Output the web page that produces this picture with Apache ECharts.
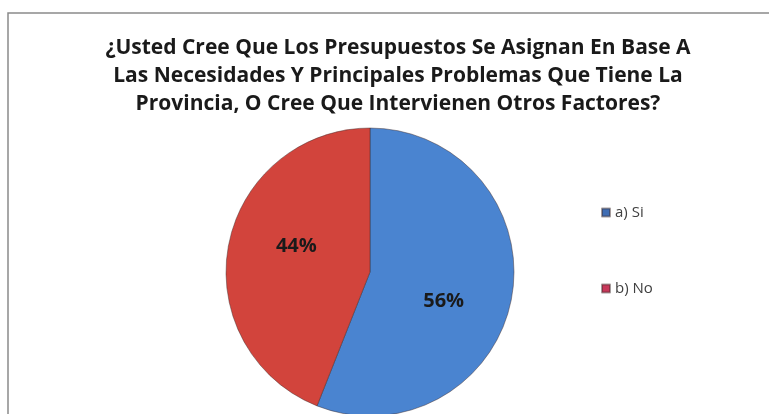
<!DOCTYPE html>
<html>
<head>
<meta charset="utf-8">
<script src="https://cdn.jsdelivr.net/npm/echarts@6/dist/echarts.min.js"></script>
<style>
html,body{margin:0;padding:0;background:#fff;}
#c{width:769px;height:414px;}
</style>
</head>
<body>
<div id="c"></div>
<script>
var titleLines = [
  '¿Usted Cree Que Los Presupuestos Se Asignan En Base A',
  'Las Necesidades Y Principales Problemas Que Tiene La',
  'Provincia, O Cree Que Intervienen Otros Factores?'
];
var categories = ['a) Si', 'b) No'];
var values = [56, 44];
var sliceColors = ['#4a84d0', '#d2443c'];
var legendColors = ['#3f6db3', '#c8385a'];

var chart = echarts.init(document.getElementById('c'));
chart.setOption({
  animation: false,
  backgroundColor: '#ffffff',
  title: {
    text: titleLines.join('\n'),
    left: 393,
    textAlign: 'center',
    top: 29,
    textStyle: {
      fontFamily: 'Open Sans',
      fontWeight: 'bold',
      fontSize: 21,
      lineHeight: 28,
      color: '#1a1a1a'
    }
  },
  graphic: [{
    type: 'rect',
    shape: { x: 8, y: 13, width: 800, height: 450 },
    style: { fill: 'none', stroke: '#8a8a8a', lineWidth: 1.5 },
    silent: true
  }],
  legend: {
    orient: 'vertical',
    left: 596,
    top: 200,
    itemWidth: 8,
    itemHeight: 8,
    itemGap: 61,
    icon: 'rect',
    textStyle: { fontFamily: 'Open Sans', fontSize: 15, color: '#404040' },
    data: categories.map(function (c, i) {
      return { name: c, itemStyle: { color: legendColors[i] } };
    })
  },
  series: [{
    type: 'pie',
    center: [370, 272],
    radius: [0, 144],
    startAngle: 90,
    clockwise: true,
    label: {
      position: 'inside',
      formatter: '{d}%',
      fontFamily: 'Open Sans',
      fontWeight: 'bold',
      fontSize: 20,
      color: '#1a1a1a'
    },
    labelLayout: function (p) {
      return p.dataIndex === 0 ? { dy: 15 } : { dy: -12 };
    },
    labelLine: { show: false },
    itemStyle: { borderColor: 'rgba(60,40,40,0.45)', borderWidth: 1 },
    data: categories.map(function (c, i) {
      return { name: c, value: values[i], itemStyle: { color: sliceColors[i] } };
    })
  }]
});
</script>
</body>
</html>
